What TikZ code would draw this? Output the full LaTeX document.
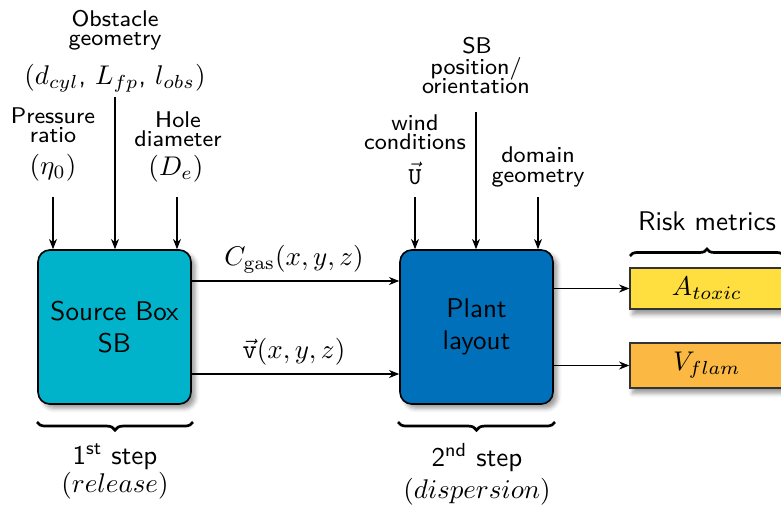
\documentclass[tikz,border=0pt]{standalone}
\usetikzlibrary{arrows.meta,decorations.pathreplacing,shadows.blur}
\definecolor{sbcol}{RGB}{0,178,202}
\definecolor{plcol}{RGB}{0,112,186}
\definecolor{ycol}{RGB}{255,222,64}
\definecolor{ocol}{RGB}{251,185,67}
\renewcommand{\familydefault}{\sfdefault}
\begin{document}
\begin{tikzpicture}[x=0.37pt,y=-0.37pt,
  box/.style={draw=black, line width=0.6pt, rounded corners=4.4pt,
    minimum width=56.6pt, minimum height=57pt, align=center, font=\normalsize,
    blur shadow={shadow xshift=1.6pt, shadow yshift=-1.6pt, shadow blur radius=1.6pt}},
  rbox/.style={draw=black!80, line width=0.5pt, minimum width=57pt, inner sep=0pt,
    blur shadow={shadow xshift=1pt, shadow yshift=-2pt, shadow blur radius=1.6pt}},
  lbl/.style={inner sep=0pt, anchor=base, font=\fontsize{8.4}{9}\selectfont},
  mlbl/.style={inner sep=0pt, anchor=base, font=\normalsize},
  arr/.style={-{Stealth[length=3.8pt,width=3pt]}, line width=0.4pt},
  brc/.style={decorate, line width=1pt}]
\useasboundingbox (0,0) rectangle (781,507);

% main boxes
\node[box, fill=sbcol] (sb) at (114.5,327) {Source Box\\SB};
\node[box, fill=plcol] (pl) at (476.5,327) {Plant\\layout};

% risk boxes
\node[rbox, fill=ycol, minimum height=15.2pt] (at) at (707,288.5) {$A_{toxic}$};
\node[rbox, fill=ocol, minimum height=16.6pt] (vf) at (707,365.5) {$V_{flam}$};
\node[mlbl] (rm) at (707,230) {Risk metrics};

% SB input labels
\node[lbl] (ob1) at (115,26) {Obstacle};
\node[lbl] (ob2) at (115,45) {geometry};
\node[mlbl] (ob3) at (115,84) {$(d_{cyl}$, $L_{fp}$, $l_{obs})$};
\node[lbl] (pr1) at (53,123) {Pressure};
\node[lbl] (pr2) at (53,142) {ratio};
\node[mlbl] (pr3) at (53,174) {$(\eta_0)$};
\node[lbl] (ho1) at (178,127) {Hole};
\node[lbl] (ho2) at (178,146) {diameter};
\node[mlbl] (ho3) at (176,175) {$(D_e)$};

% plant input labels
\node[lbl] (sp1) at (477,53) {SB};
\node[lbl] (sp2) at (476,74) {position/};
\node[lbl] (sp3) at (476,93) {orientation};
\node[lbl] (wc1) at (415,130) {wind};
\node[lbl] (wc2) at (415,149) {conditions};
\node[inner sep=0pt, anchor=base, font=\fontsize{9}{10}\selectfont] (wc3) at (415,184) {$\vec{\mathtt{U}}$};
\node[lbl] (dg1) at (538,162) {domain};
\node[lbl] (dg2) at (538,182) {geometry};

% input arrows
\coordinate (i1) at (53,197);
\coordinate (i2) at (115,97);
\coordinate (i3) at (177,197);
\coordinate (j1) at (415,197);
\coordinate (j2) at (476,112);
\coordinate (j3) at (538,197);
\draw[arr] (i1) -- (i1 |- sb.north);
\draw[arr] (i2) -- (i2 |- sb.north);
\draw[arr] (i3) -- (i3 |- sb.north);
\draw[arr] (j1) -- (j1 |- pl.north);
\draw[arr] (j2) -- (j2 |- pl.north);
\draw[arr] (j3) -- (j3 |- pl.north);

% SB -> plant
\coordinate (c1) at (0,281);
\coordinate (c2) at (0,374);
\draw[arr] (sb.east |- c1) -- (pl.west |- c1);
\draw[arr] (sb.east |- c2) -- (pl.west |- c2);
\node[mlbl] (cg) at (294,265) {$C_{\mathrm{gas}}(x,y,z)$};
\node[mlbl] (vv) at (294,358) {$\vec{\mathtt{v}}(x,y,z)$};

% plant -> risk
\draw[arr] (pl.east |- at) -- (at.west);
\draw[arr] (pl.east |- vf) -- (vf.west);

% braces
\coordinate (bl1) at (37,422);
\coordinate (br1) at (193,422);
\coordinate (bl2) at (398,422);
\coordinate (br2) at (555,422);
\coordinate (tl) at (630,256);
\coordinate (tr) at (784,256);
\draw[brc, decoration={brace, mirror, amplitude=3pt}] (bl1) -- (br1);
\draw[brc, decoration={brace, mirror, amplitude=3pt}] (bl2) -- (br2);
\draw[brc, decoration={brace, amplitude=2.6pt}] (tl) -- (tr);

% step labels
\node[mlbl] (s1) at (115,464) {1\textsuperscript{st} step};
\node[mlbl] (s1b) at (115,492) {$(release)$};
\node[mlbl] (s2) at (477,466) {2\textsuperscript{nd} step};
\node[mlbl] (s2b) at (477,498) {$(dispersion)$};
\end{tikzpicture}
\end{document}
